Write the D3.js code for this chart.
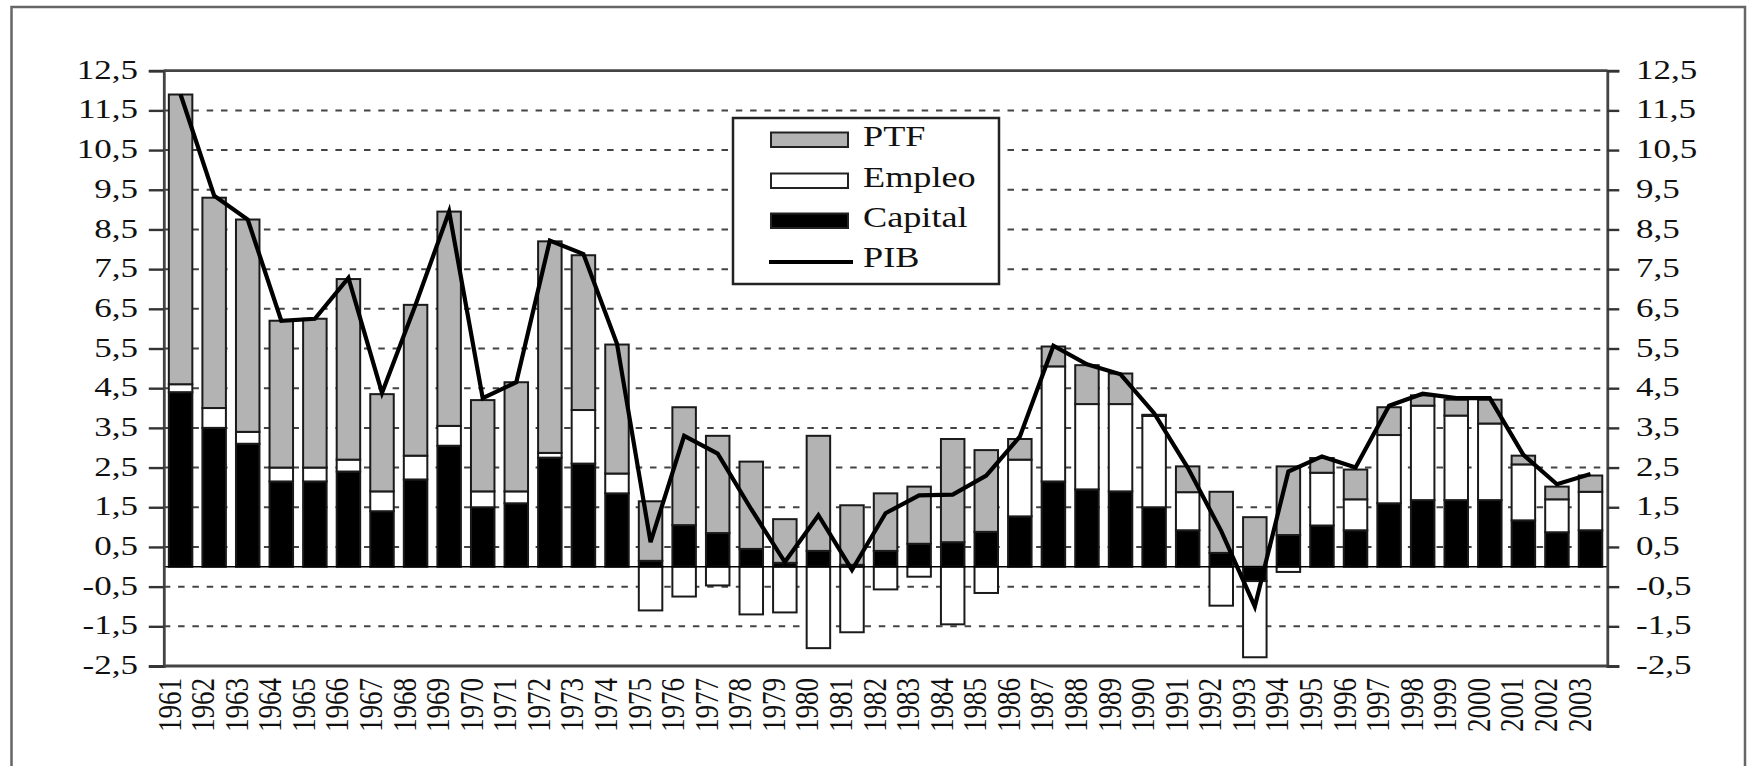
<!DOCTYPE html>
<html>
<head>
<meta charset="utf-8">
<script src="https://cdn.jsdelivr.net/npm/d3@7"></script>
<style>
  body { margin: 0; background: #fff; }
  text { font-family: "Liberation Serif", "Times New Roman", serif; fill: #111; }
</style>
</head>
<body>
<div id="vis"></div>
<script>
// years on the x axis
var years = [1961, 1962, 1963, 1964, 1965, 1966, 1967, 1968, 1969, 1970,
             1971, 1972, 1973, 1974, 1975, 1976, 1977, 1978, 1979, 1980,
             1981, 1982, 1983, 1984, 1985, 1986, 1987, 1988, 1989, 1990,
             1991, 1992, 1993, 1994, 1995, 1996, 1997, 1998, 1999, 2000,
             2001, 2002, 2003];

// contributions
var capital = [4.4, 3.5, 3.1, 2.15, 2.15, 2.4, 1.4, 2.2, 3.05, 1.5,
               1.6, 2.75, 2.6, 1.85, 0.15, 1.05, 0.85, 0.45, 0.1, 0.4,
               0.05, 0.4, 0.58, 0.62, 0.88, 1.27, 2.15, 1.95, 1.9, 1.5,
               0.92, 0.35, -0.36, 0.8, 1.04, 0.92, 1.6, 1.68, 1.68, 1.68,
               1.17, 0.87, 0.92];
var empleo = [0.2, 0.5, 0.3, 0.35, 0.35, 0.3, 0.5, 0.6, 0.5, 0.4,
              0.3, 0.12, 1.35, 0.5, -1.1, -0.75, -0.47, -1.2, -1.15, -2.05,
              -1.65, -0.57, -0.25, -1.45, -0.66, 1.43, 2.9, 2.15, 2.2, 2.3,
              0.96, -0.98, -1.92, -0.13, 1.33, 0.78, 1.72, 2.38, 2.13, 1.93,
              1.41, 0.83, 0.97];
var ptf = [7.3, 5.3, 5.35, 3.7, 3.75, 4.55, 2.45, 3.8, 5.4, 2.3,
           2.75, 5.33, 3.9, 3.25, 1.5, 2.97, 2.45, 2.2, 1.1, 2.9,
           1.5, 1.45, 1.44, 2.6, 2.06, 0.52, 0.5, 0.98, 0.77, 0.03,
           0.65, 1.54, 1.25, 1.73, 0.37, 0.75, 0.7, 0.26, 0.4, 0.6,
           0.22, 0.32, 0.41];
var pib = [11.9, 9.35, 8.75, 6.2, 6.25, 7.28, 4.38, 6.6, 8.95, 4.25,
           4.65, 8.22, 7.88, 5.62, 0.62, 3.3, 2.85, 1.45, 0.12, 1.3,
           -0.08, 1.35, 1.8, 1.82, 2.3, 3.28, 5.57, 5.1, 4.85, 3.87,
           2.5, 0.9, -1.0, 2.4, 2.78, 2.5, 4.06, 4.36, 4.25, 4.25,
           2.82, 2.08, 2.34];

var yTicks = [-2.5, -1.5, -0.5, 0.5, 1.5, 2.5, 3.5, 4.5, 5.5, 6.5,
              7.5, 8.5, 9.5, 10.5, 11.5, 12.5];

var legendItems = ['PTF', 'Empleo', 'Capital', 'PIB'];

// geometry (no globals named top/left: window.top is read-only)
var width = 1750;
var height = 766;
var plot = { x0: 163.8, x1: 1607.3, y0: 70.7, y1: 666 };
var sx = 1.25;   // the scan is stretched horizontally, text follows it

var svg = d3.select('#vis').append('svg')
    .attr('width', width)
    .attr('height', height);

svg.append('rect')
    .attr('width', width)
    .attr('height', height)
    .attr('fill', '#fff');

// outer frame (bottom is cut off in the scan)
svg.append('path')
    .attr('d', 'M11.5,' + height + 'V7H1745V' + height)
    .attr('fill', 'none')
    .attr('stroke', '#666')
    .attr('stroke-width', 2.5);

var x = d3.scaleBand()
    .domain(years)
    .range([plot.x0, plot.x1])
    .paddingInner(0.3)
    .paddingOuter(0.15);

var y = d3.scaleLinear()
    .domain([-2.5, 12.5])
    .range([plot.y1, plot.y0]);

var fmt = function (v) { return v.toFixed(1).replace('.', ','); };

// dashed gridlines
svg.append('g')
    .selectAll('line')
    .data(yTicks.filter(function (d) { return d > -2.5 && d < 12.5; }))
    .enter().append('line')
    .attr('x1', plot.x0)
    .attr('x2', plot.x1)
    .attr('y1', function (d) { return y(d); })
    .attr('y2', function (d) { return y(d); })
    .attr('stroke', '#444')
    .attr('stroke-width', 2)
    .attr('stroke-dasharray', '6.5,7.8');

// stacked bars
var rows = years.map(function (yr, i) {
  return { year: yr, capital: capital[i], empleo: empleo[i], ptf: ptf[i] };
});

var stack = d3.stack()
    .keys(['capital', 'empleo', 'ptf'])
    .offset(d3.stackOffsetDiverging);

var fills = { capital: '#000', empleo: '#fff', ptf: '#b3b3b3' };

svg.append('g')
    .selectAll('g')
    .data(stack(rows))
    .enter().append('g')
    .attr('fill', function (d) { return fills[d.key]; })
    .selectAll('rect')
    .data(function (d) { return d; })
    .enter().append('rect')
    .attr('x', function (d) { return x(d.data.year); })
    .attr('width', x.bandwidth())
    .attr('y', function (d) { return y(Math.max(d[0], d[1])); })
    .attr('height', function (d) { return Math.abs(y(d[0]) - y(d[1])); })
    .attr('stroke', '#1a1a1a')
    .attr('stroke-width', 2);

// zero line
svg.append('line')
    .attr('x1', plot.x0)
    .attr('x2', plot.x1)
    .attr('y1', y(0))
    .attr('y2', y(0))
    .attr('stroke', '#000')
    .attr('stroke-width', 1.6);

// PIB line
var line = d3.line()
    .x(function (d, i) { return x(years[i]) + x.bandwidth() / 2; })
    .y(function (d) { return y(d); });

svg.append('path')
    .datum(pib)
    .attr('d', line)
    .attr('fill', 'none')
    .attr('stroke', '#000')
    .attr('stroke-width', 4.2);

// top and bottom frame lines
svg.append('g')
    .selectAll('line')
    .data([-2.5, 12.5])
    .enter().append('line')
    .attr('x1', plot.x0)
    .attr('x2', plot.x1)
    .attr('y1', function (d) { return y(d); })
    .attr('y2', function (d) { return y(d); })
    .attr('stroke', '#444')
    .attr('stroke-width', 2.8);

// left and right axes
var yLeft = svg.append('g')
    .attr('transform', 'translate(' + plot.x0 + ',0)')
    .call(d3.axisLeft(y).tickValues(yTicks).tickFormat(fmt).tickSize(15).tickPadding(0));

var yRight = svg.append('g')
    .attr('transform', 'translate(' + plot.x1 + ',0)')
    .call(d3.axisRight(y).tickValues(yTicks).tickFormat(fmt).tickSize(12).tickPadding(0));

[yLeft, yRight].forEach(function (ax) {
  ax.attr('font-size', null).attr('font-family', null);
  ax.select('.domain').attr('stroke', '#444').attr('stroke-width', 2.8);
  ax.selectAll('.tick line').attr('stroke', '#333').attr('stroke-width', 2.4);
  ax.selectAll('.tick text')
    .style('font-size', '28px')
    .attr('dy', '0.27em')
    .attr('fill', '#111');
});
yLeft.selectAll('.tick text')
    .attr('x', -25.8 / sx)
    .attr('transform', 'scale(' + sx + ',1)');
yRight.selectAll('.tick text')
    .attr('x', 28.7 / sx)
    .attr('transform', 'scale(' + sx + ',1)');

// year labels, rotated
var xAxis = svg.append('g')
    .attr('transform', 'translate(0,' + plot.y1 + ')')
    .call(d3.axisBottom(x).tickSize(0));

xAxis.attr('font-size', null).attr('font-family', null);
xAxis.select('.domain').remove();
xAxis.selectAll('.tick text')
    .attr('x', 0)
    .attr('y', 0)
    .attr('dy', 0)
    .style('font-size', '27px')
    .attr('text-anchor', 'end')
    .attr('fill', '#111')
    .attr('transform', 'translate(0,12) scale(' + sx + ',1) rotate(-90)');

// legend
var legend = svg.append('g');

legend.append('rect')
    .attr('x', 733)
    .attr('y', 118)
    .attr('width', 266)
    .attr('height', 166)
    .attr('fill', '#fff')
    .attr('stroke', '#222')
    .attr('stroke-width', 2.5);

var swatchFill = ['#b3b3b3', '#fff', '#000'];
var entryY = [146, 187, 227, 267];

legendItems.forEach(function (name, i) {
  if (i < 3) {
    legend.append('rect')
        .attr('x', 771)
        .attr('y', entryY[i] - 13.5)
        .attr('width', 77)
        .attr('height', 14.5)
        .attr('fill', swatchFill[i])
        .attr('stroke', '#222')
        .attr('stroke-width', 2);
  } else {
    legend.append('line')
        .attr('x1', 769)
        .attr('x2', 853)
        .attr('y1', entryY[i] - 5)
        .attr('y2', entryY[i] - 5)
        .attr('stroke', '#000')
        .attr('stroke-width', 4.2);
  }
  legend.append('text')
      .attr('transform', 'translate(863,' + entryY[i] + ') scale(' + sx + ',1)')
      .style('font-size', '29px')
      .text(name);
});
</script>
</body>
</html>
